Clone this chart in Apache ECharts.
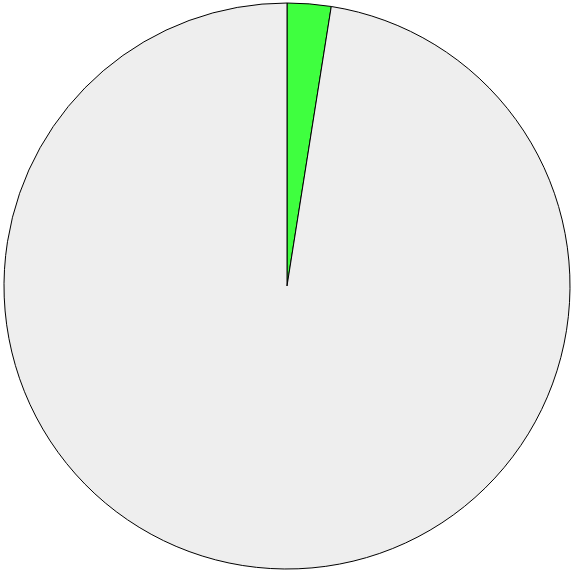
<!DOCTYPE html>
<html>
<head>
<meta charset="utf-8">
<script src="https://cdn.jsdelivr.net/npm/echarts@6/dist/echarts.min.js"></script>
<style>html,body{margin:0;padding:0;background:#fff;}#c{width:571px;height:572px;}</style>
</head>
<body>
<div id="c"></div>
<script>
var categories = ['A', 'B'];
var values = [2.5, 97.5];
var colors = ['#3fff3f', '#eeeeee'];

var chart = echarts.init(document.getElementById('c'), null, {renderer: 'canvas'});
chart.setOption({
  animation: false,
  series: [{
    type: 'pie',
    center: [287, 286],
    radius: [0, 283],
    startAngle: 90,
    clockwise: true,
    label: {show: false},
    labelLine: {show: false},
    emphasis: {disabled: true},
    itemStyle: {borderColor: '#000', borderWidth: 1},
    data: categories.map(function (c, i) {
      return {name: c, value: values[i], itemStyle: {color: colors[i]}};
    })
  }]
});
</script>
</body>
</html>
